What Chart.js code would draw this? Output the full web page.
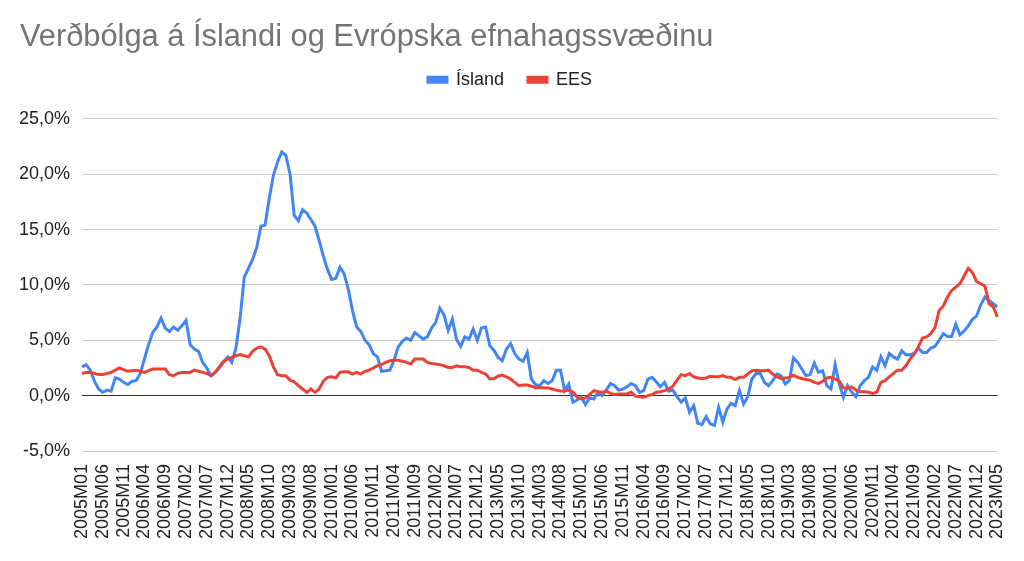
<!DOCTYPE html>
<html>
<head>
<meta charset="utf-8">
<title>Verðbólga á Íslandi og Evrópska efnahagssvæðinu</title>
<script src="https://cdn.jsdelivr.net/npm/chart.js@4.4.0/dist/chart.umd.min.js"></script>
<style>
    html, body { margin: 0; padding: 0; background: #fff; }
    #wrap { width: 1024px; height: 561px; position: relative; }
</style>
</head>
<body>
<div id="wrap"><canvas id="inflationChart"></canvas></div>
<script>
// Monthly 12-month inflation, 2005M01 - 2023M05
const startYear = 2005;
const monthCount = 221;

const islandValues = [
    2.6, 2.8, 2.3, 1.3, 0.6, 0.3, 0.5, 0.4, 1.6, 1.5, 1.2, 1.0,
    1.3, 1.35, 2.0, 3.3, 4.6, 5.7, 6.2, 7.0, 6.1, 5.8, 6.2, 5.9,
    6.3, 6.8, 4.6, 4.2, 4.0, 3.0, 2.5, 1.8, 2.1, 2.5, 3.0, 3.5,
    3.0, 4.3, 7.0, 10.7, 11.5, 12.3, 13.4, 15.3, 15.4, 17.8, 19.9, 21.1,
    22.0, 21.7, 20.0, 16.3, 15.8, 16.8, 16.5, 15.9, 15.3, 14.0, 12.6, 11.4,
    10.5, 10.6, 11.6, 11.0, 9.6, 7.7, 6.2, 5.8, 5.0, 4.6, 3.8, 3.5,
    2.2, 2.25, 2.3, 3.2, 4.4, 4.9, 5.2, 5.0, 5.7, 5.4, 5.1, 5.3,
    6.1, 6.6, 7.9, 7.3, 5.9, 6.9, 5.1, 4.45, 5.3, 5.1, 6.0, 5.0,
    6.1, 6.2, 4.5, 4.1, 3.45, 3.15, 4.2, 4.7, 3.8, 3.3, 3.1, 3.9,
    1.5, 1.0, 0.9, 1.35, 1.1, 1.35, 2.3, 2.3, 0.45, 1.05, -0.6, -0.4,
    -0.15, -0.8, -0.2, -0.3, 0.3, 0.0, 0.5, 1.1, 0.9, 0.5, 0.6, 0.8,
    1.1, 0.9, 0.3, 0.45, 1.5, 1.65, 1.25, 0.8, 1.2, 0.4, 0.5, -0.1,
    -0.6, -0.2, -1.5, -0.9, -2.5, -2.6, -1.9, -2.55, -2.7, -1.05, -2.4, -1.2,
    -0.7, -0.9, 0.45, -0.75, -0.1, 1.5, 2.0, 2.0, 1.2, 0.9, 1.35, 1.95,
    1.8, 1.05, 1.35, 3.4, 3.0, 2.4, 1.8, 1.9, 2.95, 2.1, 2.25, 0.9,
    0.6, 2.8, 1.05, -0.15, 0.9, 0.3, -0.1, 0.9, 1.35, 1.65, 2.6, 2.3,
    3.5, 2.7, 3.8, 3.5, 3.3, 4.05, 3.7, 3.7, 3.8, 4.3, 3.9, 3.9,
    4.3, 4.45, 5.0, 5.6, 5.35, 5.35, 6.45, 5.5, 5.85, 6.3, 6.9, 7.2,
    8.2, 8.9, 8.6, 8.3, 8.0
];

const eesValues = [
    2.0, 2.1, 2.1, 2.0, 1.9, 1.9, 2.0, 2.1, 2.3, 2.5, 2.35, 2.2,
    2.25, 2.3, 2.2, 2.1, 2.25, 2.4, 2.4, 2.4, 2.4, 1.9, 1.8, 2.0,
    2.1, 2.1, 2.1, 2.3, 2.2, 2.1, 2.0, 1.8, 2.1, 2.6, 3.1, 3.3,
    3.45, 3.6, 3.7, 3.6, 3.5, 4.0, 4.3, 4.4, 4.2, 3.6, 2.6, 1.9,
    1.8, 1.8, 1.4, 1.25, 0.9, 0.6, 0.3, 0.6, 0.3, 0.6, 1.3, 1.65,
    1.7, 1.6, 2.1, 2.15, 2.15, 1.95, 2.1, 1.95, 2.2, 2.3, 2.5, 2.7,
    2.8, 3.0, 3.15, 3.2, 3.2, 3.1, 3.0, 2.85, 3.3, 3.3, 3.3, 3.0,
    2.9, 2.85, 2.8, 2.7, 2.55, 2.55, 2.7, 2.6, 2.6, 2.55, 2.3, 2.3,
    2.1, 1.95, 1.5, 1.55, 1.75, 1.85, 1.7, 1.5, 1.2, 0.9, 0.95, 0.95,
    0.85, 0.7, 0.75, 0.7, 0.7, 0.6, 0.5, 0.4, 0.45, 0.5, 0.3, -0.15,
    -0.3, -0.2, 0.1, 0.45, 0.35, 0.3, 0.4, 0.2, 0.1, 0.15, 0.15, 0.15,
    0.3, -0.05, -0.1, -0.15, 0.0, 0.1, 0.3, 0.35, 0.45, 0.6, 0.85, 1.4,
    1.9, 1.8, 2.0, 1.7, 1.6, 1.55, 1.6, 1.75, 1.7, 1.7, 1.8, 1.65,
    1.65, 1.45, 1.65, 1.65, 1.95, 2.25, 2.3, 2.25, 2.25, 2.3, 1.95, 1.7,
    1.55, 1.6, 1.65, 1.85, 1.65, 1.55, 1.45, 1.4, 1.2, 1.1, 1.3, 1.6,
    1.65, 1.5, 1.3, 0.7, 0.7, 0.8, 0.5, 0.35, 0.35, 0.3, 0.2, 0.3,
    1.2, 1.35, 1.7, 2.0, 2.3, 2.3, 2.7, 3.3, 3.75, 4.4, 5.2, 5.3,
    5.6, 6.15, 7.7, 8.1, 8.9, 9.5, 9.8, 10.1, 10.8, 11.5, 11.1, 10.3,
    10.1, 9.9, 8.3, 8.0, 7.1
];

const yTicks = [-5, 0, 5, 10, 15, 20, 25];
const labelEvery = 5;

// Month labels like 2005M01
const months = [];
for (let i = 0; i < monthCount; i++) {
    const y = startYear + Math.floor(i / 12);
    const m = (i % 12) + 1;
    months.push(y + 'M' + (m < 10 ? '0' + m : m));
}

const FONT = 'Arial, "Liberation Sans", sans-serif';

// push the plot down below the legend
const legendGap = {
    id: 'legendGap',
    beforeInit(chart) {
        if (!chart.legend) return;
        const fit = chart.legend.fit;
        chart.legend.fit = function () {
            fit.bind(chart.legend)();
            this.height += 20;
        };
    }
};

const ctx = document.getElementById('inflationChart').getContext('2d');
new Chart(ctx, {
    type: 'line',
    data: {
        labels: months,
        datasets: [
            {
                label: 'Ísland',
                data: islandValues,
                borderColor: '#4285F4',
                backgroundColor: '#4285F4',
                borderWidth: 3,
                pointRadius: 0,
                tension: 0,
                order: 1
            },
            {
                label: 'EES',
                data: eesValues,
                borderColor: '#EA4335',
                backgroundColor: '#EA4335',
                borderWidth: 3,
                pointRadius: 0,
                tension: 0,
                order: 0
            }
        ]
    },
    options: {
        responsive: true,
        maintainAspectRatio: false,
        animation: false,
        layout: { padding: { left: 20, right: 24, top: 0, bottom: 10 } },
        plugins: {
            title: {
                display: true,
                text: 'Verðbólga á Íslandi og Evrópska efnahagssvæðinu',
                align: 'start',
                color: '#757575',
                font: { family: FONT, size: 30.8, weight: 'normal', lineHeight: 1.0 },
                padding: { top: 22, bottom: -6 }
            },
            legend: {
                position: 'top',
                align: 'center',
                labels: {
                    boxWidth: 19,
                    boxHeight: 5,
                    padding: 24,
                    color: '#222',
                    font: { family: FONT, size: 18 },
                    sort: (a, b) => a.datasetIndex - b.datasetIndex
                }
            },
            tooltip: { enabled: false }
        },
        scales: {
            x: {
                grid: { display: false },
                border: { display: false },
                ticks: {
                    autoSkip: false,
                    minRotation: 90,
                    maxRotation: 90,
                    padding: 5,
                    color: '#222',
                    font: { family: FONT, size: 18 },
                    callback: function (value, index) {
                        return index % labelEvery === 0 ? this.getLabelForValue(value) : '';
                    }
                },
                afterFit: (scale) => { scale.height = 100; }
            },
            y: {
                min: yTicks[0],
                max: yTicks[yTicks.length - 1],
                afterBuildTicks: (scale) => { scale.ticks = yTicks.map(v => ({ value: v })); },
                border: { display: false },
                grid: {
                    drawTicks: false,
                    lineWidth: 1,
                    color: (c) => (c.tick && c.tick.value === 0 ? '#333333' : '#cccccc')
                },
                ticks: {
                    padding: 12,
                    color: '#222',
                    font: { family: FONT, size: 18 },
                    callback: (value) => value.toFixed(1).replace('.', ',') + '%'
                },
                afterFit: (scale) => { scale.width = 62; }
            }
        }
    },
    plugins: [legendGap]
});
</script>
</body>
</html>
